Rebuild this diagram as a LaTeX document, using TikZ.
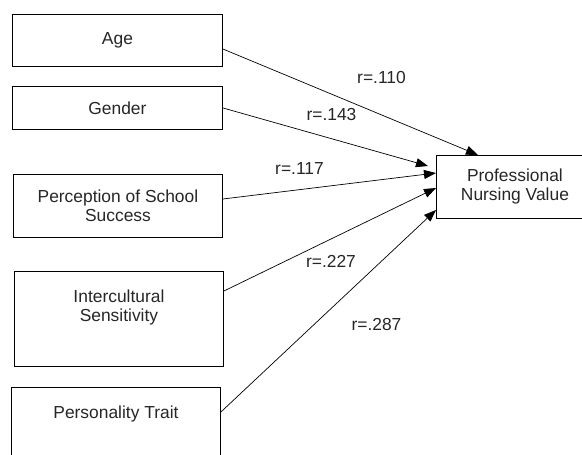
\documentclass[tikz,border=0pt]{standalone}
\usepackage{fontspec}
\setmainfont{Liberation Sans}
\usetikzlibrary{arrows.meta}

\begin{document}
\begin{tikzpicture}[x=1pt,y=-1pt,
  font=\fontsize{17.4}{19}\selectfont,
  varbox/.style={draw,line width=0.9pt,inner sep=0pt,minimum width=210pt,align=center,anchor=north west,text=black!85},
  corr/.style={-{Triangle[length=12pt,width=9pt]},line width=0.7pt},
  rlabel/.style={inner sep=0pt,text=black!85}]
  \useasboundingbox (0,0) rectangle (582,455);
  % predictors
  \node[varbox,minimum height=52pt] (age) at (12,14) {Age};
  \node[varbox,minimum height=43pt] (gender) at (12,86) {Gender};
  \node[varbox,minimum width=209pt,minimum height=63pt] (perc) at (13,174) {Perception of School\\Success};
  \node[varbox,minimum width=209pt,text height=50pt,text depth=45pt] (inter) at (14,271) {Intercultural\\Sensitivity};
  \node[varbox,minimum width=209pt,text height=31pt,text depth=80pt] (pers) at (11,387) {Personality Trait};
  % outcome
  \node[varbox,minimum width=157pt,minimum height=63pt] (pnv) at (436,155) {Professional\\Nursing Value};
  % correlations
  \draw[corr] ([yshift=-35pt]age.north east) -- ([xshift=42pt]pnv.north west);
  \draw[corr] (gender.east) -- ([xshift=-8pt,yshift=-11pt]pnv.north west);
  \draw[corr] ([yshift=-25pt]perc.north east) -- ([yshift=-18pt]pnv.north west);
  \draw[corr] ([yshift=-20pt]inter.north east) -- ([yshift=-33pt]pnv.north west);
  \draw[corr] ([yshift=-25pt]pers.north east) -- ([yshift=-55pt]pnv.north west);
  \node[rlabel] (rage) at (381.5,78) {r=.110};
  \node[rlabel] (rgender) at (331.5,115) {r=.143};
  \node[rlabel] (rperc) at (299.5,169) {r=.117};
  \node[rlabel] (rinter) at (331,261) {r=.227};
  \node[rlabel] (rpers) at (376.5,325) {r=.287};
\end{tikzpicture}
\end{document}
